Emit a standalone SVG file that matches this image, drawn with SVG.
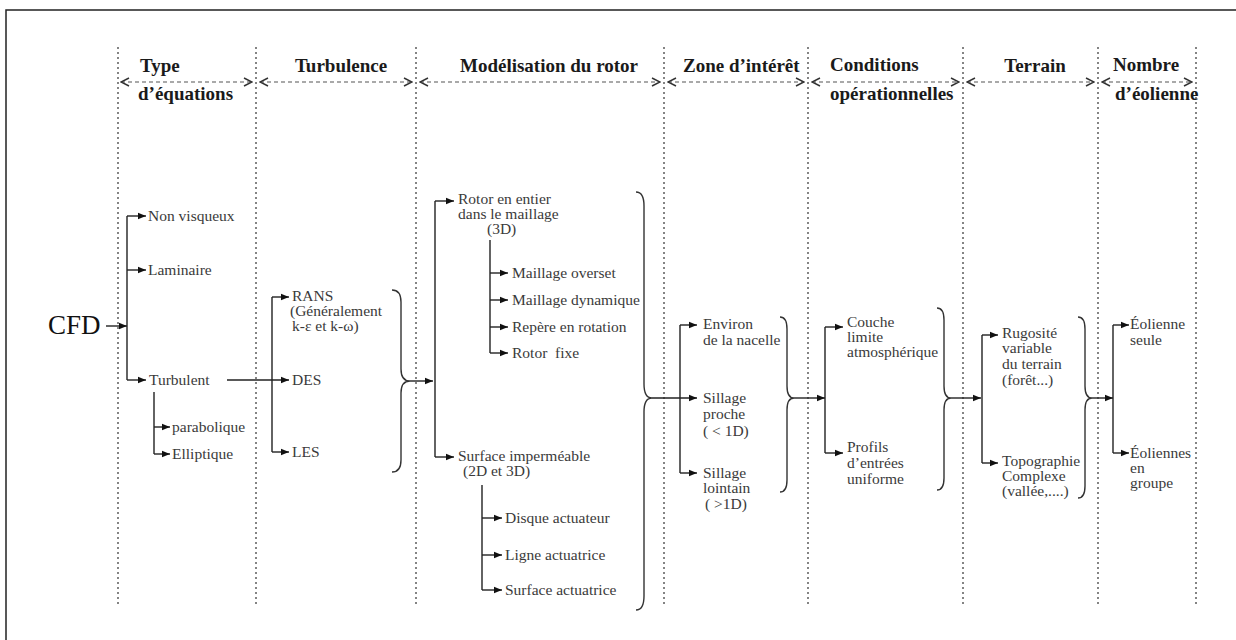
<svg xmlns="http://www.w3.org/2000/svg" width="1236" height="640" viewBox="0 0 1236 640">
<defs>
<marker id="ah" viewBox="0 0 10 10" refX="10" refY="5" markerWidth="9" markerHeight="8" markerUnits="userSpaceOnUse" orient="auto"><path d="M0,1 L10,5 L0,9 z" fill="#111"/></marker>
<marker id="chev" viewBox="0 0 10 10" refX="9" refY="5" markerWidth="10" markerHeight="10" markerUnits="userSpaceOnUse" orient="auto-start-reverse"><path d="M1,1 L9,5 L1,9" fill="none" stroke="#333" stroke-width="1.5"/></marker>
</defs>
<style>
.hd{font-family:"Liberation Serif","Times New Roman",serif;font-weight:bold;font-size:19px;fill:#1a1a1a}
.tx{font-family:"Liberation Serif","Times New Roman",serif;font-size:15.5px;fill:#3a3a3a}
.big{font-family:"Liberation Serif","Times New Roman",serif;font-size:27px;fill:#111}
.dot{stroke:#666;stroke-width:1.6;stroke-dasharray:2 3;fill:none}
.hdash{stroke:#555;stroke-width:1.2;stroke-dasharray:4 3;fill:none;marker-start:url(#chev);marker-end:url(#chev)}
.ln{stroke:#222;stroke-width:1.4;fill:none}
.ar{stroke:#222;stroke-width:1.4;fill:none;marker-end:url(#ah)}
.br{stroke:#333;stroke-width:1.4;fill:none}
</style>
<rect x="0" y="0" width="1236" height="640" fill="#fff"/>
<path d="M6,640 V10 H1236" fill="none" stroke="#222" stroke-width="1.5"/>

<g id="columns">
<line class="dot" x1="118" y1="47" x2="118" y2="606"/>
<line class="dot" x1="256" y1="47" x2="256" y2="606"/>
<line class="dot" x1="416" y1="47" x2="416" y2="606"/>
<line class="dot" x1="664" y1="47" x2="664" y2="606"/>
<line class="dot" x1="808" y1="47" x2="808" y2="606"/>
<line class="dot" x1="963" y1="47" x2="963" y2="606"/>
<line class="dot" x1="1098" y1="47" x2="1098" y2="606"/>
<line class="dot" x1="1196" y1="47" x2="1196" y2="606"/>
<line class="hdash" x1="121" y1="82" x2="252" y2="82"/>
<line class="hdash" x1="260" y1="82" x2="412" y2="82"/>
<line class="hdash" x1="420" y1="82" x2="660" y2="82"/>
<line class="hdash" x1="668" y1="82" x2="804" y2="82"/>
<line class="hdash" x1="812" y1="82" x2="959" y2="82"/>
<line class="hdash" x1="967" y1="82" x2="1094" y2="82"/>
<line class="hdash" x1="1102" y1="82" x2="1192" y2="82"/>
</g>

<g id="headers">
<text class="hd" x="140" y="72">Type</text>
<text class="hd" x="138" y="100">d’équations</text>
<text class="hd" x="341" y="72" text-anchor="middle">Turbulence</text>
<text class="hd" x="549" y="72" text-anchor="middle">Modélisation du rotor</text>
<text class="hd" x="683" y="72">Zone d’intérêt</text>
<text class="hd" x="830" y="71">Conditions</text>
<text class="hd" x="830" y="100">opérationnelles</text>
<text class="hd" x="1035" y="72" text-anchor="middle">Terrain</text>
<text class="hd" x="1113" y="71">Nombre</text>
<text class="hd" x="1115" y="100">d’éolienne</text>
</g>

<g id="connectors">
<path class="ar" d="M106,326 H127"/>
<path class="ln" d="M127,216 V380"/>
<path class="ar" d="M127,216 H146"/>
<path class="ar" d="M127,270 H146"/>
<path class="ar" d="M127,380 H146"/>
<path class="ln" d="M154,392 V454"/>
<path class="ar" d="M154,427 H170"/>
<path class="ar" d="M154,454 H170"/>
<path class="ar" d="M227,380 H289"/>
<path class="ln" d="M272,297 V452"/>
<path class="ar" d="M272,297 H289"/>
<path class="ar" d="M272,452 H289"/>
<path class="br" d="M392,290 Q401,290 401,302 V369 Q401,381 410,381 Q401,381 401,393 V460 Q401,472 392,472"/>
<path class="ar" d="M410,381 H433"/>
<path class="ln" d="M435,201 V457"/>
<path class="ar" d="M435,201 H454"/>
<path class="ar" d="M435,457 H454"/>
<path class="ln" d="M490,240 V353"/>
<path class="ar" d="M490,273 H508"/>
<path class="ar" d="M490,300 H508"/>
<path class="ar" d="M490,327 H508"/>
<path class="ar" d="M490,353 H508"/>
<path class="ln" d="M482,485 V590"/>
<path class="ar" d="M482,518 H502"/>
<path class="ar" d="M482,555 H502"/>
<path class="ar" d="M482,590 H502"/>
<path class="br" d="M636,192 Q644,192 644,206 V384 Q644,398 652,398 Q644,398 644,412 V596 Q644,610 636,610"/>
<path class="ar" d="M652,398 H697"/>
<path class="ln" d="M680,325 V473"/>
<path class="ar" d="M680,325 H697"/>
<path class="ar" d="M680,473 H697"/>
<path class="br" d="M780,317 Q787,317 787,329 V386 Q787,398 794,398 Q787,398 787,410 V480 Q787,492 780,492"/>
<path class="ar" d="M794,398 H825"/>
<path class="ln" d="M825,327 V453"/>
<path class="ar" d="M825,327 H843"/>
<path class="ar" d="M825,453 H843"/>
<path class="br" d="M937,308 Q944,308 944,320 V386 Q944,398 951,398 Q944,398 944,410 V478 Q944,490 937,490"/>
<path class="ar" d="M951,398 H981"/>
<path class="ln" d="M982,335 V463"/>
<path class="ar" d="M982,335 H998"/>
<path class="ar" d="M982,463 H998"/>
<path class="br" d="M1078,317 Q1085,317 1085,329 V386 Q1085,398 1092,398 Q1085,398 1085,410 V486 Q1085,498 1078,498"/>
<path class="ar" d="M1092,398 H1113"/>
<path class="ln" d="M1113,325 V453"/>
<path class="ar" d="M1113,325 H1129"/>
<path class="ar" d="M1113,453 H1129"/>
</g>

<g id="n-cfd"><text class="big" x="48" y="334">CFD</text></g>
<g id="n-nonvisq"><text class="tx" x="148" y="221">Non visqueux</text></g>
<g id="n-laminaire"><text class="tx" x="148" y="275">Laminaire</text></g>
<g id="n-turbulent"><text class="tx" x="149" y="385">Turbulent</text></g>
<g id="n-parabolique"><text class="tx" x="172" y="432">parabolique</text></g>
<g id="n-elliptique"><text class="tx" x="172" y="459">Elliptique</text></g>
<g id="n-rans"><text class="tx" x="292" y="301">RANS</text><text class="tx" x="290" y="316">(Généralement</text><text class="tx" x="292" y="331">k-ε et k-ω)</text></g>
<g id="n-des"><text class="tx" x="292" y="385">DES</text></g>
<g id="n-les"><text class="tx" x="292" y="457">LES</text></g>
<g id="n-rotor-entier"><text class="tx" x="458" y="204">Rotor en entier</text><text class="tx" x="458" y="219">dans le maillage</text><text class="tx" x="487" y="234">(3D)</text></g>
<g id="n-overset"><text class="tx" x="512" y="278">Maillage overset</text></g>
<g id="n-dynamique"><text class="tx" x="512" y="305">Maillage dynamique</text></g>
<g id="n-repere"><text class="tx" x="512" y="332">Repère en rotation</text></g>
<g id="n-fixe"><text class="tx" x="512" y="358" xml:space="preserve">Rotor  fixe</text></g>
<g id="n-surface-imp"><text class="tx" x="458" y="461">Surface imperméable</text><text class="tx" x="463" y="476">(2D et 3D)</text></g>
<g id="n-disque"><text class="tx" x="505" y="523">Disque actuateur</text></g>
<g id="n-ligne"><text class="tx" x="505" y="560">Ligne actuatrice</text></g>
<g id="n-surface-act"><text class="tx" x="505" y="595">Surface actuatrice</text></g>
<g id="n-environ"><text class="tx" x="703" y="329">Environ</text><text class="tx" x="703" y="345">de la nacelle</text></g>
<g id="n-proche"><text class="tx" x="703" y="403">Sillage</text><text class="tx" x="703" y="419">proche</text><text class="tx" x="703" y="436" xml:space="preserve">( &lt; 1D)</text></g>
<g id="n-lointain"><text class="tx" x="703" y="478">Sillage</text><text class="tx" x="703" y="493">lointain</text><text class="tx" x="705" y="509" xml:space="preserve">( &gt;1D)</text></g>
<g id="n-couche"><text class="tx" x="847" y="327">Couche</text><text class="tx" x="847" y="342">limite</text><text class="tx" x="847" y="357">atmosphérique</text></g>
<g id="n-profils"><text class="tx" x="847" y="452">Profils</text><text class="tx" x="847" y="468">d’entrées</text><text class="tx" x="847" y="484">uniforme</text></g>
<g id="n-rugosite"><text class="tx" x="1002" y="338">Rugosité</text><text class="tx" x="1002" y="353">variable</text><text class="tx" x="1002" y="369">du terrain</text><text class="tx" x="1002" y="385">(forêt...)</text></g>
<g id="n-topo"><text class="tx" x="1002" y="466">Topographie</text><text class="tx" x="1002" y="481">Complexe</text><text class="tx" x="1002" y="496">(vallée,....)</text></g>
<g id="n-seule"><text class="tx" x="1130" y="329">Éolienne</text><text class="tx" x="1130" y="345">seule</text></g>
<g id="n-groupe"><text class="tx" x="1130" y="458">Éoliennes</text><text class="tx" x="1130" y="473">en</text><text class="tx" x="1130" y="488">groupe</text></g>
</svg>
